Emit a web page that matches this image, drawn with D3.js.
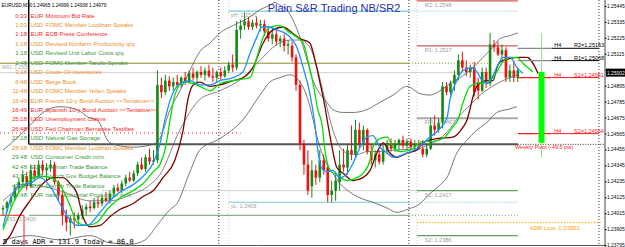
<!DOCTYPE html>
<html>
<meta charset="utf-8">
<style>
body{margin:0;background:#fff;}
svg{display:block;font-family:"Liberation Sans",Arial,sans-serif;}
</style>
<body>
<script src="https://d3js.org/d3.v7.min.js"></script>
<script>
var width = 625, height = 247;

// M30 candles, [open, high, low, close]
var candles = [
[1.2404,1.2407,1.2400,1.2405],[1.2405,1.2410,1.2402,1.2409],[1.2409,1.2414,1.2406,1.2412],[1.2412,1.2421,1.2410,1.2419],
[1.2419,1.2426,1.2416,1.2423],[1.2423,1.2431,1.2420,1.2428],[1.2427,1.2430,1.2417,1.2420],[1.2420,1.2435,1.2419,1.2431],
[1.2431,1.2435,1.2424,1.2427],[1.2427,1.2438,1.2426,1.2435],[1.2435,1.2438,1.2428,1.2431],[1.2431,1.2436,1.2424,1.2433],
[1.2433,1.2438,1.2430,1.2435],[1.2435,1.2437,1.2421,1.2423],[1.2423,1.2424,1.2410,1.2414],[1.2414,1.2417,1.2393,1.2400],
[1.2400,1.2404,1.2389,1.2395],[1.2395,1.2400,1.2386,1.2398],[1.2398,1.2402,1.2391,1.2397],[1.2397,1.2402,1.2393,1.2400],
[1.2400,1.2407,1.2397,1.2404],[1.2404,1.2408,1.2400,1.2406],[1.2406,1.2410,1.2402,1.2405],[1.2405,1.2412,1.2404,1.2409],
[1.2409,1.2413,1.2405,1.2408],[1.2408,1.2414,1.2406,1.2412],[1.2412,1.2416,1.2409,1.2410],[1.2410,1.2417,1.2408,1.2415],
[1.2415,1.2421,1.2413,1.2419],[1.2419,1.2422,1.2416,1.2417],[1.2417,1.2424,1.2415,1.2422],[1.2422,1.2428,1.2420,1.2426],
[1.2426,1.2430,1.2423,1.2424],[1.2424,1.2431,1.2423,1.2429],[1.2429,1.2437,1.2427,1.2435],[1.2435,1.2440,1.2431,1.2432],
[1.2432,1.2442,1.2430,1.2440],[1.2440,1.2446,1.2435,1.2437],[1.2437,1.2445,1.2435,1.2438],[1.2438,1.2500,1.2436,1.2490],
[1.2490,1.2495,1.2481,1.2485],[1.2485,1.2497,1.2483,1.2493],[1.2493,1.2496,1.2486,1.2489],[1.2489,1.2495,1.2486,1.2492],
[1.2492,1.2497,1.2488,1.2490],[1.2490,1.2496,1.2488,1.2495],[1.2495,1.2499,1.2490,1.2492],[1.2492,1.2500,1.2491,1.2498],
[1.2498,1.2502,1.2493,1.2495],[1.2495,1.2500,1.2492,1.2499],[1.2499,1.2503,1.2495,1.2497],[1.2497,1.2502,1.2493,1.2500],
[1.2500,1.2504,1.2495,1.2496],[1.2496,1.2502,1.2492,1.2495],[1.2495,1.2500,1.2492,1.2499],[1.2499,1.2502,1.2493,1.2496],
[1.2496,1.2503,1.2495,1.2500],[1.2500,1.2506,1.2498,1.2504],[1.2504,1.2511,1.2499,1.2502],[1.2502,1.2534,1.2500,1.2528],
[1.2528,1.2535,1.2522,1.2531],[1.2531,1.2540,1.2528,1.2534],[1.2534,1.2537,1.2528,1.2530],[1.2530,1.2535,1.2528,1.2533],
[1.2533,1.2537,1.2529,1.2531],[1.2531,1.2535,1.2527,1.2532],[1.2532,1.2535,1.2524,1.2527],[1.2527,1.2531,1.2520,1.2522],
[1.2522,1.2529,1.2518,1.2525],[1.2525,1.2528,1.2517,1.2520],[1.2520,1.2524,1.2516,1.2522],[1.2522,1.2525,1.2513,1.2517],
[1.2517,1.2521,1.2511,1.2518],[1.2517,1.2520,1.2506,1.2509],[1.2509,1.2511,1.2486,1.2490],[1.2490,1.2493,1.2445,1.2449],
[1.2449,1.2452,1.2428,1.2435],[1.2435,1.2445,1.2414,1.2417],[1.2420,1.2438,1.2412,1.2431],[1.2431,1.2435,1.2421,1.2426],
[1.2426,1.2445,1.2423,1.2438],[1.2438,1.2442,1.2428,1.2431],[1.2433,1.2435,1.2409,1.2414],[1.2414,1.2424,1.2409,1.2417],
[1.2417,1.2430,1.2410,1.2424],[1.2423,1.2445,1.2417,1.2435],[1.2435,1.2446,1.2430,1.2433],[1.2433,1.2449,1.2428,1.2445],
[1.2445,1.2462,1.2438,1.2442],[1.2442,1.2466,1.2440,1.2459],[1.2459,1.2464,1.2446,1.2449],[1.2449,1.2462,1.2445,1.2459],
[1.2459,1.2460,1.2442,1.2444],[1.2444,1.2449,1.2435,1.2438],[1.2438,1.2445,1.2433,1.2442],[1.2442,1.2445,1.2435,1.2437],
[1.2437,1.2449,1.2435,1.2445],[1.2445,1.2452,1.2442,1.2450],[1.2450,1.2453,1.2444,1.2446],[1.2446,1.2452,1.2444,1.2449],
[1.2449,1.2453,1.2445,1.2452],[1.2452,1.2455,1.2446,1.2448],[1.2448,1.2453,1.2445,1.2451],[1.2451,1.2453,1.2445,1.2447],
[1.2447,1.2452,1.2444,1.2449],[1.2448,1.2452,1.2445,1.2446],[1.2446,1.2452,1.2440,1.2442],[1.2442,1.2449,1.2440,1.2446],
[1.2446,1.2467,1.2445,1.2462],[1.2462,1.2469,1.2455,1.2459],[1.2459,1.2467,1.2457,1.2464],[1.2464,1.2492,1.2460,1.2489],
[1.2489,1.2492,1.2483,1.2485],[1.2485,1.2493,1.2483,1.2491],[1.2491,1.2500,1.2486,1.2497],[1.2497,1.2511,1.2493,1.2507],
[1.2507,1.2513,1.2499,1.2502],[1.2502,1.2507,1.2496,1.2499],[1.2499,1.2504,1.2495,1.2502],[1.2502,1.2506,1.2482,1.2485],
[1.2492,1.2495,1.2480,1.2486],[1.2486,1.2502,1.2485,1.2499],[1.2499,1.2502,1.2488,1.2491],[1.2491,1.2526,1.2489,1.2518],
[1.2518,1.2521,1.2513,1.2516],[1.2516,1.2520,1.2510,1.2511],[1.2511,1.2518,1.2507,1.2514],[1.2514,1.2516,1.2492,1.2495],
[1.2495,1.2504,1.2492,1.2500],[1.2500,1.2507,1.2492,1.2495],[1.2495,1.2502,1.2492,1.2500]
];

// indicator lines, [bar, price]
var fastLine = [[0,1.2392],[1.8,1.2410],[4.3,1.2421],[6.8,1.2422],[9.3,1.2426],[11.9,1.2420],[14.4,1.2408],[16.9,1.2397],[18.7,1.2393],[21.2,1.2393],[24.5,1.2402],[27,1.2410],[29.5,1.2416],[32.8,1.2421],[35.4,1.2427],[37.9,1.2436],[39.6,1.2449],[40.9,1.2466],[42.7,1.2483],[44.7,1.2491],[47.2,1.2493],[49.7,1.2490],[52.3,1.2490],[54.8,1.2493],[58.1,1.2495],[60.6,1.2499],[62.4,1.2512],[64.1,1.2523],[65.4,1.2530],[66.7,1.2530],[69.2,1.2528],[72.5,1.2523],[74.2,1.2516],[75.8,1.2502],[77.5,1.2484],[78.8,1.2462],[79.6,1.2443],[80.4,1.2433],[81.8,1.2430],[83.3,1.2431],[85.1,1.2426],[86.9,1.2429],[88.4,1.2436],[90.2,1.2447],[91.9,1.2454],[93.4,1.2455],[95.2,1.2447],[97,1.2443],[98.5,1.2440],[102,1.2443],[104.5,1.2446],[107.8,1.2454],[110.4,1.2460],[112.1,1.2467],[112.9,1.2480],[114.6,1.2493],[116.2,1.2500],[118.4,1.2502],[119.7,1.2499],[121,1.2493],[122.2,1.2491],[123.5,1.2495],[124.7,1.2502],[126.3,1.2509],[128,1.2509],[129.8,1.2502],[131.3,1.2498]];
var midLine = [[0,1.2390],[1,1.2397],[2.5,1.2408],[4.3,1.2417],[6.8,1.2424],[9.3,1.2427],[11.9,1.2426],[14.4,1.2421],[16.9,1.2407],[18.7,1.2395],[21.2,1.2393],[23.7,1.2395],[26.3,1.2404],[29.5,1.2412],[32.8,1.2417],[35.4,1.2422],[37.9,1.2430],[39.6,1.2435],[40.9,1.2445],[42.2,1.2466],[43.4,1.2483],[45.5,1.2492],[48,1.2491],[50.5,1.2488],[52.3,1.2486],[54.8,1.2491],[58.1,1.2493],[62.4,1.2495],[64.1,1.2509],[65.7,1.2523],[67.4,1.2530],[69.9,1.2531],[72,1.2527],[74.2,1.2523],[75.8,1.2519],[77,1.2507],[78.3,1.2491],[79.5,1.2473],[80.6,1.2462],[81.3,1.2445],[82.6,1.2431],[84.3,1.2428],[86.9,1.2424],[89.4,1.2426],[90.9,1.2429],[92.7,1.2438],[93.4,1.2447],[95.2,1.2453],[97,1.2454],[98.5,1.2447],[100.3,1.2444],[102.8,1.2445],[106.1,1.2451],[108.6,1.2451],[111.1,1.2453],[113.6,1.2461],[114.9,1.2466],[116.2,1.2478],[117.9,1.2489],[119.7,1.2491],[122.2,1.2492],[123.7,1.2495],[126.3,1.2506],[128,1.2509],[129.8,1.2509],[131.3,1.2505],[133.8,1.2499]];
var slowLine = [[0,1.2380],[1.8,1.2386],[4.3,1.2400],[6.8,1.2410],[10.1,1.2422],[12.6,1.2426],[15.2,1.2426],[16.9,1.2422],[18.7,1.2415],[20.2,1.2399],[22,1.2392],[24.5,1.2393],[27,1.2399],[29.5,1.2404],[32.8,1.2408],[35.4,1.2413],[37.9,1.2417],[40.4,1.2426],[43.4,1.2438],[45.5,1.2459],[46.7,1.2480],[48,1.2490],[49.7,1.2492],[52.3,1.2489],[54.8,1.2490],[58.1,1.2493],[60.6,1.2495],[63.1,1.2502],[65.7,1.2519],[68.2,1.2528],[70.7,1.2530],[73,1.2526],[75,1.2522],[77.5,1.2519],[78.8,1.2507],[80.1,1.2491],[81.3,1.2475],[82.1,1.2462],[83.1,1.2447],[84.3,1.2433],[85.9,1.2429],[88.4,1.2424],[90.9,1.2426],[92.7,1.2431],[94.4,1.2443],[96,1.2450],[97.7,1.2443],[99.5,1.2440],[102,1.2443],[104.5,1.2445],[106.1,1.2450],[109.6,1.2453],[113.6,1.2454],[116.2,1.2461],[117.2,1.2466],[117.9,1.2473],[118.7,1.2482],[119.9,1.2490],[122.2,1.2493],[123.7,1.2493],[125,1.2504],[126.3,1.2507],[130.6,1.2509],[132.3,1.2509],[135.1,1.2498]];
var bandUpper = [[0,1.2445],[3,1.2452],[6.8,1.2462],[10.1,1.2471],[14.4,1.2475],[18.7,1.2473],[22,1.2467],[23.7,1.2466],[27,1.2450],[32.8,1.2447],[37.9,1.2449],[39.6,1.2453],[42.2,1.2473],[44.7,1.2486],[47.2,1.2500],[49.7,1.2513],[52.3,1.2519],[54.8,1.2526],[58.1,1.2531],[62.4,1.2537],[64.9,1.2542],[67.4,1.2545],[68.7,1.2547],[69.9,1.2545],[71.7,1.2542],[73.2,1.2535],[75,1.2523],[76.8,1.2507],[78.3,1.2493],[80,1.2484],[81.8,1.2478],[83.3,1.2473],[85.9,1.2471],[88.4,1.2471],[91.9,1.2473],[95.2,1.2478],[98.5,1.2483],[102,1.2489],[105.3,1.2484],[107.8,1.2483],[110.4,1.2486],[112.9,1.2491],[115.4,1.2495],[118.7,1.2502],[121.2,1.2509],[123.7,1.2516],[125.5,1.2522],[128,1.2524],[130,1.2526]];
var bandMiddle = [[0,1.2410],[6.8,1.2421],[14.4,1.2417],[22,1.2410],[27,1.2410],[32.1,1.2414],[37.1,1.2421],[39.6,1.2428],[44.7,1.2459],[49.7,1.2480],[54.8,1.2486],[60.6,1.2495],[64.9,1.2507],[69.2,1.2518],[72.5,1.2521],[75,1.2521],[77.5,1.2516],[79.5,1.2500],[81.3,1.2480],[83.3,1.2459],[85.1,1.2447],[86.9,1.2443],[89.4,1.2442],[91.9,1.2444],[95.2,1.2444],[98.5,1.2445],[104.5,1.2446],[107.8,1.2449],[110.4,1.2453],[112.9,1.2460],[115.4,1.2469],[117.9,1.2476],[120.5,1.2483],[123,1.2488],[125.5,1.2492],[128,1.2495],[130,1.2497]];
var bandLower = [[0,1.2383],[6.8,1.2386],[14.4,1.2383],[22,1.2386],[27,1.2381],[32.1,1.2380],[35.9,1.2383],[38.9,1.2393],[42.2,1.2404],[43.9,1.2408],[47.2,1.2430],[49.7,1.2445],[54.8,1.2453],[60.6,1.2466],[64.9,1.2483],[67.4,1.2492],[69.9,1.2495],[72.5,1.2497],[75,1.2492],[77,1.2480],[78.3,1.2466],[79.5,1.2452],[81.3,1.2438],[83.3,1.2429],[85.1,1.2422],[87.6,1.2416],[90.2,1.2412],[93.4,1.2409],[97,1.2405],[99.5,1.2402],[102,1.2404],[105.3,1.2408],[107.8,1.2415],[110.4,1.2421],[112.1,1.2426],[114.6,1.2443],[117.2,1.2452],[119.7,1.2459],[122.2,1.2464],[124.7,1.2471],[127.3,1.2473],[129.8,1.2475]];

var priceTicks = [1.25445,1.25335,1.25225,1.25115,1.25005,1.24895,1.24785,1.24675,1.24565,1.24455,1.24345,1.24235,1.24125,1.24015,1.23905,1.23795];

var pivotNames = ["R2","R1","FPV","S1","S2"];
var pivotValues = [1.2548,1.2517,1.2467,1.2417,1.2386];
var yHighLow = [1.2541,1.2409];
var weeklyNames = ["WR1","WPV","WS1"];
var weeklyValues = [1.2505,1.2449,1.2400];
var h4Names = ["R2","R1","S1","S2"];
var h4Values = [1.25153,1.25068,1.24951,1.24564];
var dayCandle = [1.2450,1.2526,1.2440,1.2499];
var adrLow = 1.23951, adrDays = 5, adrPips = 131.9, todayPips = 86.0, weeklyPivotPts = -49.5;
var bid = 1.24985, bidText = "1.25002";
var header = ["EURUSD,M30","1.24965 1.24999 1.24938 1.24979"];

var newsTimes = ["0:33","1:03","1:18","1:18","1:18","2:48","3:18","6:48","11:48","16:49","16:49","25:18","26:48","27:18","28:38","29:48","42:48","43:33","43:48","44:48"];
var newsCurrencies = ["EUR","USD","EUR","USD","USD","USD","USD","USD","USD","EUR","EUR","USD","USD","USD","USD","USD","EUR","EUR","EUR","EUR"];
var newsEvents = ["Minimum Bid Rate","FOMC Member Lockhart Speaks","ECB Press Conference","Revised Nonfarm Productivity q/q","Revised Unit Labor Costs q/q","FOMC Member Tarullo Speaks","Crude Oil Inventories","Beige Book","FOMC Member Yellen Speaks","French 10-y Bond Auction <<Tentative>>","Spanish 10-y Bond Auction <<Tentative>>","Unemployment Claims","Fed Chairman Bernanke Testifies","Natural Gas Storage","FOMC Member Lockhart Speaks","Consumer Credit m/m","German Trade Balance","French Gov Budget Balance","French Trade Balance","Italian Industrial Production m/m"];
var newsImpact = ["high","medium","high","medium","low","low","medium","medium","medium","medium","high","high","high","low","medium","low","low","low","low","low"];

var impactColor = {high:"#ff1a1a", medium:"#f08c1e", low:"#3a9a3a"};

var x = d3.scaleLinear().domain([0,152]).range([3,604.9]);
var y = d3.scaleLinear().domain([1.23795,1.25445]).range([245,6]);
var plotR = 605, plotB = 245;

var svg = d3.select("body").append("svg").attr("width",width).attr("height",height);
svg.append("rect").attr("width",width).attr("height",height).attr("fill","#fff");
svg.append("clipPath").attr("id","plot").append("rect").attr("width",plotR).attr("height",plotB);
var g = svg.append("g").attr("clip-path","url(#plot)");

function hline(p, i0, i1, color, w, dash) {
  g.append("line").attr("x1",x(i0)).attr("x2",x(i1)).attr("y1",y(p)).attr("y2",y(p))
    .attr("stroke",color).attr("stroke-width",w).attr("stroke-dasharray",dash||null);
}
function label(t, px, py, color, size, anchor) {
  return svg.append("text").attr("x",px).attr("y",py).attr("fill",color)
    .attr("font-size",size).attr("text-anchor",anchor||"start").text(t);
}

// day separators
[54.5,102.5,150.5].forEach(function(d){
  g.append("line").attr("x1",x(d)).attr("x2",x(d)).attr("y1",0).attr("y2",plotB)
    .attr("stroke","#000").attr("stroke-width",0.8).attr("stroke-dasharray","1,2");
});
[57,104.5].forEach(function(d){
  g.append("line").attr("x1",x(d)).attr("x2",x(d)).attr("y1",0).attr("y2",plotB)
    .attr("stroke","#c8c8c8").attr("stroke-width",0.8).attr("stroke-dasharray","1,2");
});

// weekly levels
hline(weeklyValues[0], -1, 102.5, "#8a8a2a", 1);
hline(weeklyValues[0], 102.5, 123, "#8a8a2a", 1, "1,2");
hline(bid, -1, 131, "#cfcfcf", 1);
hline(weeklyValues[2], 6.5, 102.5, "#6aa06a", 1);
hline(weeklyValues[2], 102.5, 130, "#6aa06a", 1, "1,2");
hline(pivotValues[3], 25, 104.5, "#cfcfcf", 1);
label(weeklyNames[0]+": "+weeklyValues[0].toFixed(4), 2, y(weeklyValues[0])+6.2, "#a8a8a8", 4.5);
label(weeklyNames[2]+": "+weeklyValues[2].toFixed(4), 4, y(weeklyValues[2])+6, "#a0a0a0", 5.5);

// yesterday high / low
yHighLow.forEach(function(p,k){
  hline(p, 57, 102.5, "#79c9d9", 1.2);
  hline(p, 102.5, 130, "#79c9d9", 1, "1,1.5");
  label((k==0?"yH: ":"yL: ")+p.toFixed(4), x(57)+2, y(p)+6, "#a0a0a0", 5.5);
});

// daily pivots
var pivotColors = ["#d05a5a","#d05a5a","#a8a8a8","#5f9f5f","#5f9f5f"];
pivotValues.forEach(function(p,k){
  hline(p, 104.5, 130, pivotColors[k], k==2?2:1.2);
  label(pivotNames[k]+": "+p.toFixed(4), x(106.5), y(p)+6, "#9a9a9a", 5.5);
});

// weekly pivot
g.append("line").attr("x1",x(6.5)).attr("x2",x(6.5)).attr("y1",0).attr("y2",y(weeklyValues[1]))
  .attr("stroke","#000").attr("stroke-width",1.4);
hline(weeklyValues[1], 6.5, 130, "#555", 2);
hline(weeklyValues[1], 130, 152, "#000", 0.8, "1,1.5");

// red box
g.append("path").attr("d","M0,"+y(weeklyValues[2])+"H"+x(5.3)+"V"+plotB)
  .attr("fill","none").attr("stroke","#ff2020").attr("stroke-width",1);

// candles
var bw = 2.6;
var cg = g.append("g");
cg.selectAll("line").data(candles).enter().append("line")
  .attr("x1",function(d,i){return x(i);}).attr("x2",function(d,i){return x(i);})
  .attr("y1",function(d){return y(d[1]);}).attr("y2",function(d){return y(d[2]);})
  .attr("stroke",function(d){return d[3]>=d[0]?"#138a13":"#f01010";}).attr("stroke-width",1);
cg.selectAll("rect").data(candles).enter().append("rect")
  .attr("x",function(d,i){return x(i)-bw/2;}).attr("width",bw)
  .attr("y",function(d){return y(Math.max(d[0],d[3]));})
  .attr("height",function(d){return Math.max(1,Math.abs(y(d[0])-y(d[3])));})
  .attr("fill",function(d){return d[3]>=d[0]?"#138a13":"#f01010";});

// indicators
var line = d3.line().x(function(d){return x(d[0]);}).y(function(d){return y(d[1]);}).curve(d3.curveMonotoneX);
[[bandUpper,"#555",0.8],[bandMiddle,"#666",0.8],[bandLower,"#555",0.8],
 [slowLine,"#7a0000",1.3],[midLine,"#00e000",1.3],[fastLine,"#1e8fff",1.3]].forEach(function(s){
  g.append("path").attr("d",line(s[0])).attr("fill","none").attr("stroke",s[1]).attr("stroke-width",s[2]);
});

// H4 pivots
var h4Colors = ["#000","#000","#ff1a1a","#ff1a1a"];
h4Values.forEach(function(p,k){
  hline(p, 130, 138.5, k<2?"#888":"#ff1a1a", 1.2);
  hline(p, 138.5, 150.5, h4Colors[k], 1);
  label("H4", x(139.2), y(p)-1, h4Colors[k], 5.5);
  label(h4Names[k]+"="+p.toFixed(5), x(144.2), y(p)-1, h4Colors[k], 5.5);
});

// today's candle
var dx = x(136);
g.append("line").attr("x1",dx).attr("x2",dx).attr("y1",y(dayCandle[1])).attr("y2",y(dayCandle[2]))
  .attr("stroke","#8fe08f").attr("stroke-width",1);
g.append("rect").attr("x",dx-3).attr("width",6).attr("y",y(dayCandle[3]))
  .attr("height",y(dayCandle[0])-y(dayCandle[3])).attr("fill","#00ff00");

label("Weekly Pivot ("+weeklyPivotPts.toFixed(1)+" pts)", x(129.3), y(weeklyValues[1])+5, "#ff1a1a", 5.5);

// ADR low
hline(adrLow, 104.5, 151, "#ffa500", 1, "1.5,1.5");
label("ADR Low: "+adrLow.toFixed(5), x(133), y(adrLow)+8, "#ffa500", 6);

// news list
newsTimes.forEach(function(t,k){
  var ny = 17.5 + k*9.45, c = impactColor[newsImpact[k]];
  label(t, 27, ny, c, 6, "end");
  label(newsCurrencies[k], 30.5, ny, c, 6);
  label(newsEvents[k], 45.5, ny, c, 6);
});
g.append("line").attr("x1",0).attr("x2",x(60)).attr("y1",133).attr("y2",133)
  .attr("stroke","#ff2020").attr("stroke-width",1).attr("stroke-dasharray","1,3");

// header and title
label(header[0], 1.5, 6.5, "#000", 4.8);
label(header[1], 33, 6.5, "#000", 4.8);
label("Plain S&R Trading NB/SR2", 334, 12, "#1f2fb5", 11, "middle");

// bottom ADR text
svg.append("text").attr("x",3).attr("y",244).attr("font-size",7).attr("fill","#000")
  .attr("font-family","'DejaVu Sans Mono',monospace")
  .text(adrDays+" days  ADR = "+adrPips.toFixed(1)+"   Today = "+todayPips.toFixed(1));

// price axis
svg.append("line").attr("x1",plotR).attr("x2",plotR).attr("y1",0).attr("y2",height).attr("stroke","#444");
svg.append("line").attr("x1",0).attr("x2",plotR).attr("y1",plotB+0.5).attr("y2",plotB+0.5).attr("stroke","#555");
var axis = d3.axisRight(y).tickValues(priceTicks).tickSize(1.5)
  .tickFormat(function(d){ return Math.abs(y(d)-y(bid))<6 ? "" : d3.format(".5f")(d); });
var ag = svg.append("g").attr("transform","translate("+plotR+",0)").call(axis);
ag.select(".domain").remove();
ag.selectAll("text").attr("font-size",4.9).attr("x",2).attr("fill","#000");
ag.selectAll("line").attr("stroke","#000");
svg.append("rect").attr("x",plotR+1).attr("y",y(bid)-4).attr("width",19).attr("height",8).attr("fill","#000");
label(bidText, plotR+2, y(bid)+2, "#fff", 4.9);
</script>
</body>
</html>
